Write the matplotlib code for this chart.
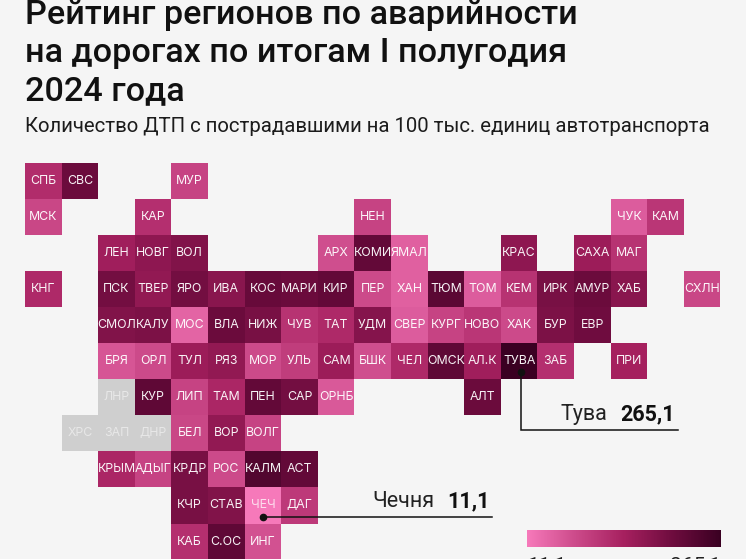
import numpy as np
import matplotlib
matplotlib.use("Agg")
import matplotlib.pyplot as plt
from matplotlib.colors import LinearSegmentedColormap, Normalize
from matplotlib.cm import ScalarMappable

plt.rcParams['font.family'] = ['Roboto', 'DejaVu Sans']

TITLE = ["Рейтинг регионов по аварийности", "на дорогах по итогам I полугодия", "2024 года"]
SUBTITLE = "Количество ДТП с пострадавшими на 100 тыс. единиц автотранспорта"
VMIN, VMAX = 11.1, 265.1
N = None

row0_labels = ["СПБ","СВС",N,N,"МУР",N,N,N,N,N,N,N,N,N,N,N,N,N,N]
row0_values = [120,205,N,N,85,N,N,N,N,N,N,N,N,N,N,N,N,N,N]
row1_labels = ["МСК",N,N,"КАР",N,N,N,N,N,"НЕН",N,N,N,N,N,N,"ЧУК","КАМ",N]
row1_values = [80,N,N,115,N,N,N,N,N,85,N,N,N,N,N,N,50,105,N]
row2_labels = [N,N,"ЛЕН","НОВГ","ВОЛ",N,N,N,"АРХ","КОМИ","ЯМАЛ",N,N,"КРАС",N,"САХА","МАГ",N,N]
row2_values = [N,N,145,165,180,N,N,N,70,215,45,N,N,165,N,150,110,N,N]
row3_labels = ["КНГ",N,"ПСК","ТВЕР","ЯРО","ИВА","КОС","МАРИ","КИР","ПЕР","ХАН","ТЮМ","ТОМ","КЕМ","ИРК","АМУР","ХАБ",N,"СХЛН"]
row3_values = [125,N,195,160,195,170,210,205,215,75,45,225,50,110,190,205,170,N,80]
row4_labels = [N,N,"СМОЛ","КАЛУ","МОС","ВЛА","НИЖ","ЧУВ","ТАТ","УДМ","СВЕР","КУРГ","НОВО","ХАК","БУР","ЕВР",N,N,N]
row4_values = [N,N,180,185,40,205,190,110,125,175,50,85,105,75,185,200,N,N,N]
row5_labels = [N,N,"БРЯ","ОРЛ","ТУЛ","РЯЗ","МОР","УЛЬ","САМ","БШК","ЧЕЛ","ОМСК","АЛ.К","ТУВА","ЗАБ",N,"ПРИ",N,N]
row5_values = [N,N,60,75,150,160,75,95,150,70,125,220,145,265.1,115,N,140,N,N]
row6_labels = [N,N,"ЛНР","КУР","ЛИП","ТАМ","ПЕН","САР","ОРНБ",N,N,N,"АЛТ",N,N,N,N,N,N]
row6_values = [N,N,N,220,85,130,215,195,55,N,N,N,205,N,N,N,N,N,N]
row7_labels = [N,"ХРС","ЗАП","ДНР","БЕЛ","ВОР","ВОЛГ",N,N,N,N,N,N,N,N,N,N,N,N]
row7_values = [N,N,N,N,80,160,85,N,N,N,N,N,N,N,N,N,N,N,N]
row8_labels = [N,N,"КРЫМ","АДЫГ","КРДР","РОС","КАЛМ","АСТ",N,N,N,N,N,N,N,N,N,N,N]
row8_values = [N,N,130,85,190,75,235,215,N,N,N,N,N,N,N,N,N,N,N]
row9_labels = [N,N,N,N,"КЧР","СТАВ","ЧЕЧ","ДАГ",N,N,N,N,N,N,N,N,N,N,N]
row9_values = [N,N,N,N,190,180,11.1,100,N,N,N,N,N,N,N,N,N,N,N]
row10_labels = [N,N,N,N,"КАБ","С.ОС","ИНГ",N,N,N,N,N,N,N,N,N,N,N,N]
row10_values = [N,N,N,N,115,220,65,N,N,N,N,N,N,N,N,N,N,N,N]

labels = [row0_labels,row1_labels,row2_labels,row3_labels,row4_labels,row5_labels,
          row6_labels,row7_labels,row8_labels,row9_labels,row10_labels]
values = np.array([row0_values,row1_values,row2_values,row3_values,row4_values,row5_values,
                   row6_values,row7_values,row8_values,row9_values,row10_values], dtype=float)

BG = "#F5F5F5"
W, H = 746, 559
cmap = LinearSegmentedColormap.from_list("pinks", ["#F679BA", "#CC4A8A", "#A6205F", "#6E0C3E", "#3A0022"])
norm = Normalize(VMIN, VMAX)

fig = plt.figure(figsize=(W/100, H/100), dpi=100, facecolor=BG)

# overlay in pixels
ov = fig.add_axes([0, 0, 1, 1], zorder=3)
ov.set_xlim(0, W); ov.set_ylim(H, 0); ov.axis("off"); ov.patch.set_alpha(0)

# grid
x0, y0, cw, ch = 25, 163, 36.6, 36.05
nrows, ncols = values.shape
ax = fig.add_axes([x0/W, 1-(y0+ch*nrows)/H, cw*ncols/W, ch*nrows/H], zorder=1)
ax.set_facecolor(BG); ax.axis("off")
has_label = np.array([[c is not None for c in r] for r in labels])
gray = np.ma.masked_where(~(has_label & np.isnan(values)), np.ones(values.shape))
ax.pcolormesh(np.arange(ncols+1), np.arange(nrows+1), gray, cmap=LinearSegmentedColormap.from_list("g", ["#CFCFCF", "#CFCFCF"]), linewidth=0)
ax.pcolormesh(np.arange(ncols+1), np.arange(nrows+1), np.ma.masked_invalid(values), cmap=cmap, norm=norm, linewidth=0)
ax.set_xlim(0, ncols); ax.set_ylim(nrows, 0)
for r, row in enumerate(labels):
    for c, t in enumerate(row):
        if t is not None:
            col = "#F0F0F0" if np.isnan(values[r, c]) else "white"
            a = 0.75 if (np.isnan(values[r, c]) or values[r, c] < 20) else 0.95
            ax.text(c+0.5, r+0.5, t, ha="center", va="center", color=col, alpha=a, fontsize=8.9, family="Inter")

# headings
for t, yb in zip(TITLE, [24, 62, 100]):
    ov.text(25, yb, t, fontsize=24.6, fontweight="medium", color="#111111", va="baseline", ha="left", clip_on=False)
ov.text(25, 132, SUBTITLE, fontsize=14.7, color="#1c1c1c", va="baseline", ha="left")

# callouts
ov.plot([521, 521, 678], [372, 430, 430], color="#111111", lw=1.1, solid_joinstyle="miter")
ov.plot([521], [372], "o", color="#111111", ms=4.5)
ov.text(607, 420, "Тува", fontsize=15.5, color="#222222", ha="right", va="baseline")
ov.text(675, 420, "265,1", fontsize=15.5, fontweight="bold", color="#111111", ha="right", va="baseline")
ov.plot([263, 492], [517, 517], color="#111111", lw=1.1)
ov.plot([263], [517], "o", color="#111111", ms=4.5)
ov.text(434, 507, "Чечня", fontsize=15.5, color="#222222", ha="right", va="baseline")
ov.text(490, 507, "11,1", fontsize=15.5, fontweight="bold", color="#111111", ha="right", va="baseline")

# colour scale
cax = fig.add_axes([527/W, 1-546.5/H, 194/W, 17/H], zorder=2)
cb = fig.colorbar(ScalarMappable(norm=norm, cmap=cmap), cax=cax, orientation="horizontal")
cb.set_ticks([]); cb.outline.set_visible(False)
ov.text(527, 572, "11,1", fontsize=15, color="#222222", ha="left", va="baseline", clip_on=False)
ov.text(721, 572, "265,1", fontsize=15, color="#222222", ha="right", va="baseline", clip_on=False)

fig.savefig("out.png", dpi=100, facecolor=BG)
